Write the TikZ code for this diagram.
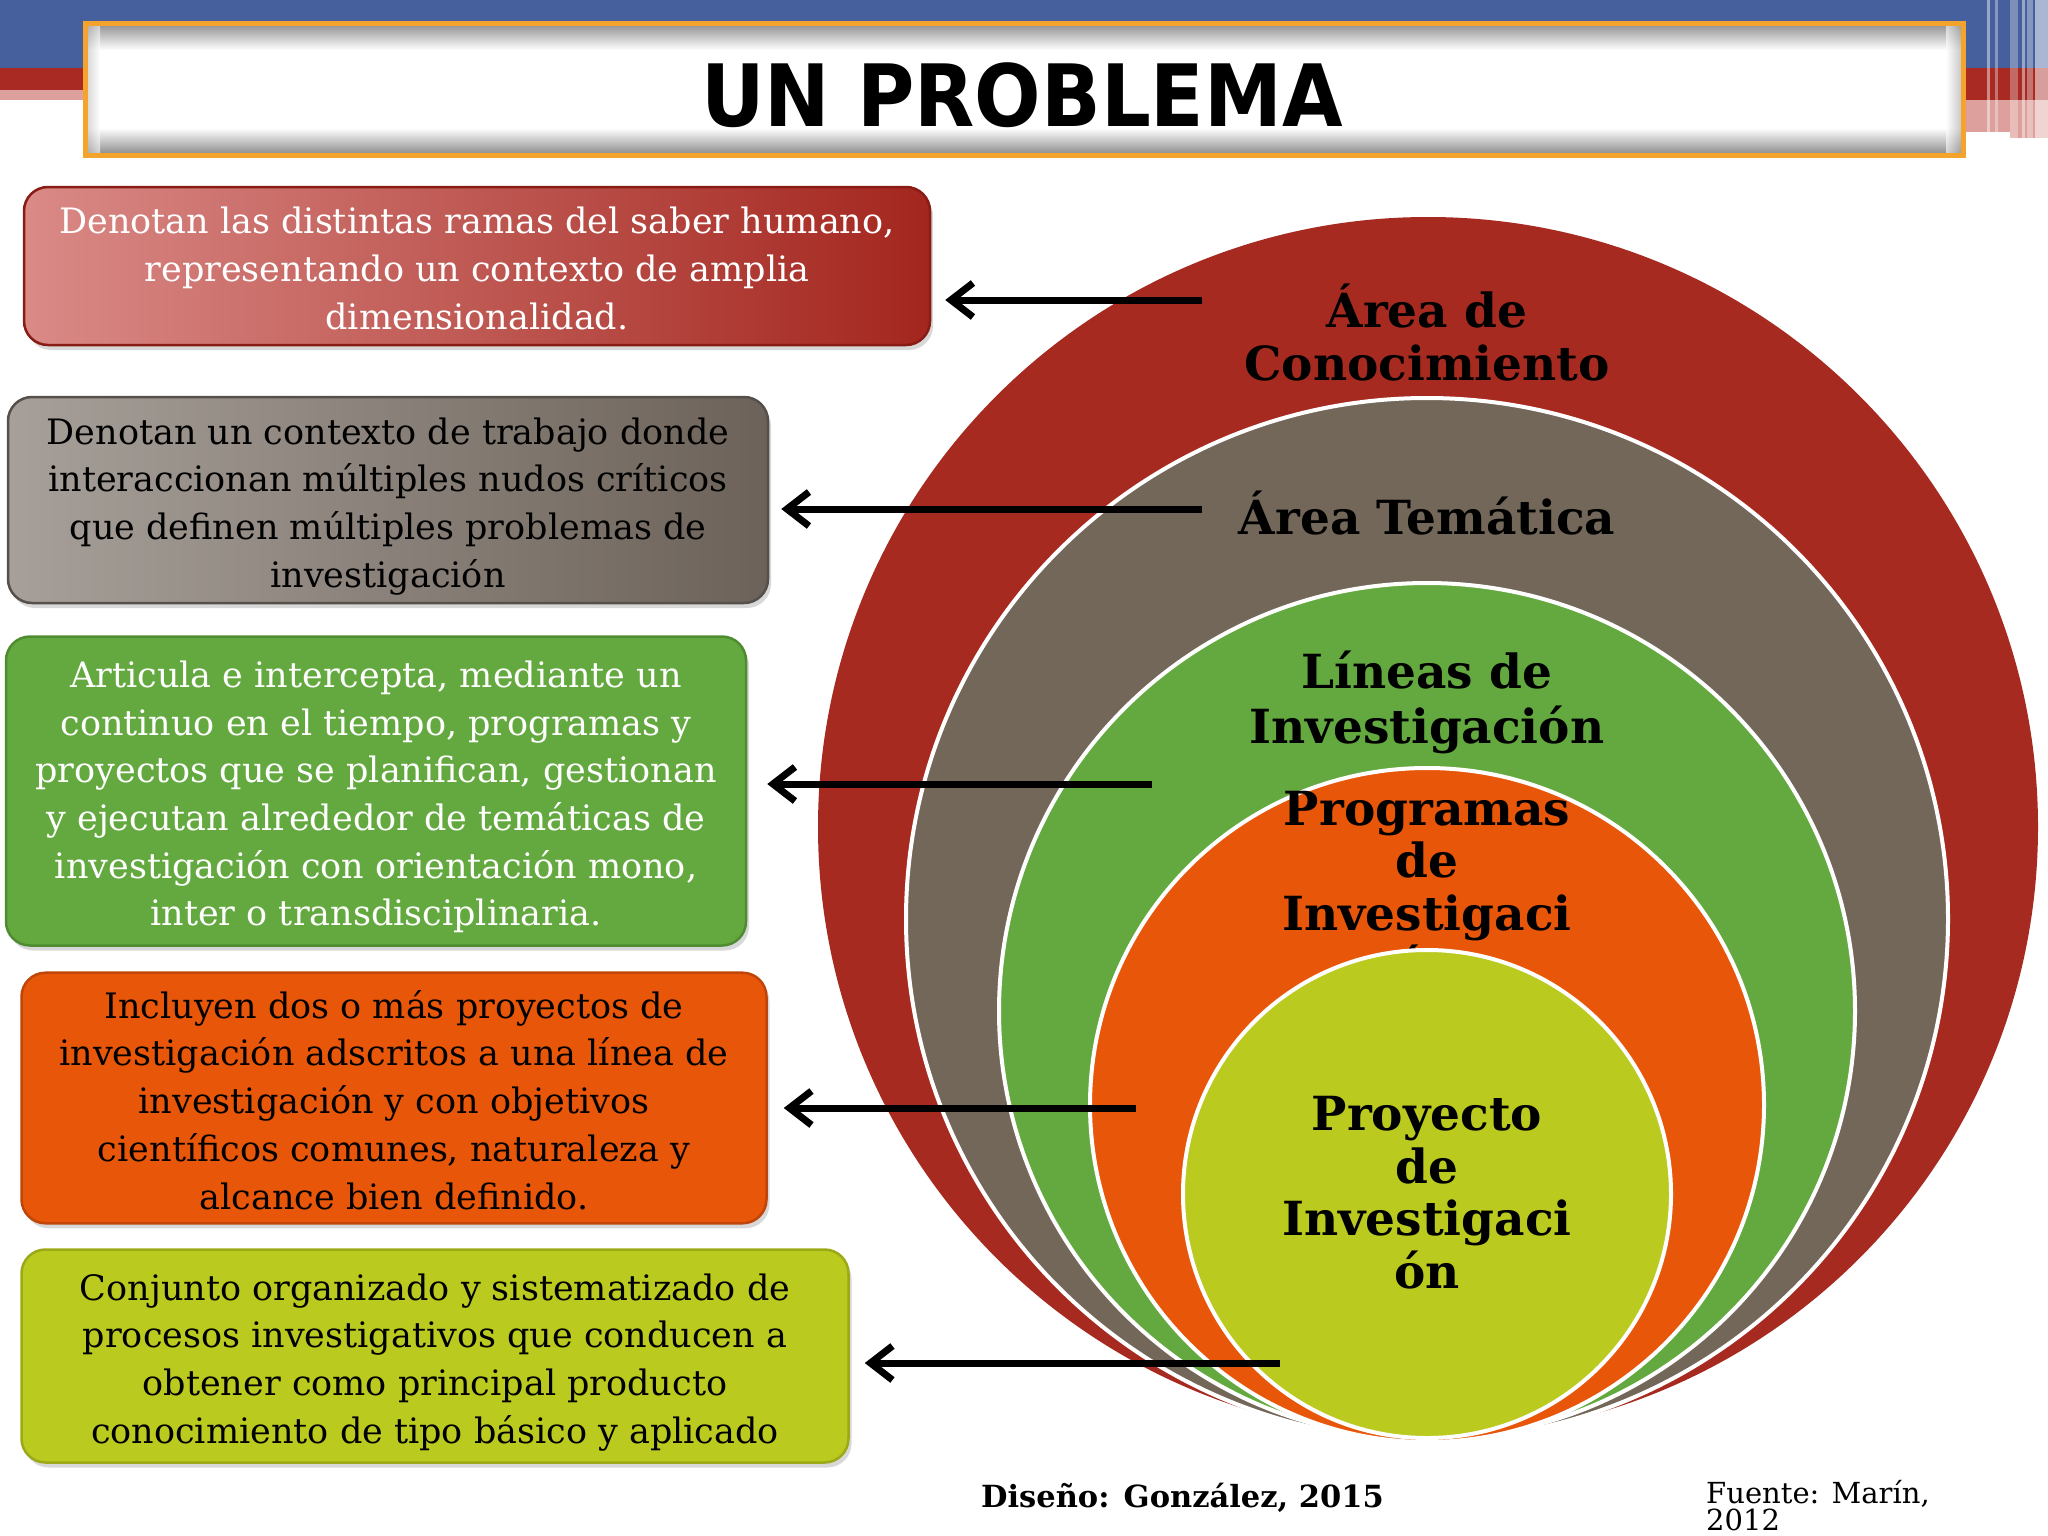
\documentclass[tikz,border=0pt]{standalone}
\usepackage{fontspec}
\setmainfont{DejaVu Serif}
\newfontfamily\titlefont{DejaVu Sans}
\usetikzlibrary{arrows.meta,shadows}
\definecolor{topblue}{HTML}{45609C}
\definecolor{topred}{HTML}{A82A22}
\definecolor{toppink}{HTML}{DDA09C}
\definecolor{ttlorange}{HTML}{F4A42C}
\definecolor{cred}{HTML}{A62A20}
\definecolor{cgray}{HTML}{736759}
\definecolor{cgreen}{HTML}{64A93F}
\definecolor{corange}{HTML}{E8560A}
\definecolor{cyellow}{HTML}{BBCA1F}
\definecolor{b1light}{HTML}{DA8A87}
\definecolor{b1dark}{HTML}{A3261E}
\definecolor{b1line}{HTML}{8A1C16}
\definecolor{b2light}{HTML}{A7A09A}
\definecolor{b2dark}{HTML}{6C6259}
\definecolor{b2line}{HTML}{57504A}
\definecolor{b3line}{HTML}{4F8C31}
\definecolor{b4line}{HTML}{BF4508}
\definecolor{b5line}{HTML}{9AA915}
\newcommand\descfont{\fontsize{35}{47.7}\selectfont}
\newcommand\lblfont{\bfseries\fontsize{47}{52.5}\selectfont}
\newcommand\srcfont{\fontsize{29}{31}\selectfont}
\newcommand\topstr{\rule{0pt}{45.5pt}}
\newcommand\botstr{\rule[-14.3pt]{0pt}{14.3pt}}
\begin{document}
\begin{tikzpicture}[x=1pt,y=-1pt,
  descbox/.style={rounded corners=24pt, inner sep=0pt, align=center, line width=2.5pt, font=\descfont,
     drop shadow={opacity=0.3, shadow xshift=3pt, shadow yshift=-5pt}},
  ring/.style={draw=white, line width=4pt},
  lbl/.style={align=center, inner sep=0pt, font=\lblfont, text=black},
  arr/.style={line width=7pt, draw=black, -{Straight Barb[length=22pt,width=34pt]}},
]
\useasboundingbox (0,0) rectangle (2048,1536);
\fill[white] (0,0) rectangle (2048,1536);

% top band
\fill[topblue] (0,0) rectangle (2048,68);
\fill[topred] (0,68) rectangle (85,90);
\fill[toppink] (0,90) rectangle (85,100);
\fill[topred] (1963,68) rectangle (2048,100);
\fill[toppink] (1963,100) rectangle (2048,132);
\fill[toppink] (2010,132) rectangle (2048,138);
\foreach \a/\b/\o in {1987/1990/0.45,1995/1998/0.35,2010/2018/0.3,2022/2025/0.45,2027/2033/0.35,2035/2048/0.55}
  \fill[white, opacity=\o] (\a,0) rectangle (\b,138);

% title box
\fill[white] (85,24) rectangle (1963,156);
\shade[top color=black!40, bottom color=white] (87,26) rectangle (1961,50);
\shade[top color=white, bottom color=black!45] (87,128) rectangle (1961,154);
\shade[left color=black!25, right color=white, opacity=0.6] (87,26) rectangle (100,154);
\shade[left color=white, right color=black!35, opacity=0.6] (1946,26) rectangle (1961,154);
\draw[ttlorange, line width=5pt] (85,24) rectangle (1963,156);
\node[inner sep=0pt, font=\titlefont\bfseries\fontsize{86}{86}\selectfont] (title) at (1022,95) {\scalebox{0.91}[1]{UN PROBLEMA}};

% description boxes
\node[descbox, minimum width=906pt, minimum height=158pt, left color=b1light, right color=b1dark, draw=b1line, text=white] (b1) at (477,266)
  {\topstr Denotan las distintas ramas del saber humano,\\ representando un contexto de amplia\\ \botstr dimensionalidad.};
\node[descbox, minimum width=760pt, minimum height=206pt, left color=b2light, right color=b2dark, draw=b2line, text=black] (b2) at (388,500)
  {\topstr Denotan un contexto de trabajo donde\\ interaccionan múltiples nudos críticos\\ que definen múltiples problemas de\\ \botstr investigación};
\node[descbox, minimum width=740pt, minimum height=309pt, fill=cgreen, draw=b3line, text=white] (b3) at (376,791)
  {\topstr Articula e intercepta, mediante un\\ continuo en el tiempo, programas y\\ proyectos que se planifican, gestionan\\ y ejecutan alrededor de temáticas de\\ investigación con orientación mono,\\ \botstr inter o transdisciplinaria.};
\node[descbox, minimum width=745pt, minimum height=245pt, fill=corange, draw=b4line, text=black] (b4) at (394,1098)
  {\topstr Incluyen dos o más proyectos de\\ investigación adscritos a una línea de\\ investigación y con objetivos\\ científicos comunes, naturaleza y\\ \botstr alcance bien definido.};
\node[descbox, minimum width=827pt, minimum height=213pt, fill=cyellow, draw=b5line, text=black] (b5) at (435,1356)
  {\topstr Conjunto organizado y sistematizado de\\ procesos investigativos que conducen a\\ obtener como principal producto\\ \botstr conocimiento de tipo básico y aplicado};

% circles
\fill[cred] (1428,827) circle[radius=610pt];
\node[lbl] (l1) at (1427,340) {\strut Área de\\\strut Conocimiento};
\filldraw[ring, fill=cgray] (1427,919) circle[radius=521pt];
\node[lbl] (l2) at (1427,520.5) {\strut Área Temática};
\filldraw[ring, fill=cgreen] (1427,1011) circle[radius=428pt];
\node[lbl] (l3) at (1427,705) {\strut Líneas de\\\strut Investigación};
\filldraw[ring, fill=corange] (1427,1105) circle[radius=337pt];
\node[lbl] (l4) at (1427,893.5) {\strut Programas\\de\\Investigaci\\\strut ón};
\filldraw[ring, fill=cyellow] (1427,1194) circle[radius=244pt];
\node[lbl] (l5) at (1427,1199) {\strut Proyecto\\de\\Investigaci\\\strut ón};

% arrows
\coordinate (s1) at (1202,300);
\coordinate (s2) at (1202,509);
\coordinate (s3) at (1152,784);
\coordinate (s4) at (1136,1108);
\coordinate (s5) at (1280,1363);
\draw[arr, shorten >=14pt] (s1) -- (b1.east |- s1);
\draw[arr, shorten >=12pt] (s2) -- (b2.east |- s2);
\draw[arr, shorten >=20pt] (s3) -- (b3.east |- s3);
\draw[arr, shorten >=16pt] (s4) -- (b4.east |- s4);
\draw[arr, shorten >=15pt] (s5) -- (b5.east |- s5);

% credits
\node[anchor=base west, inner sep=0pt, font=\bfseries\fontsize{30.5}{31}\selectfont] (dis) at (981,1507) {Diseño: González, 2015};
\node[anchor=base west, inner sep=0pt, font=\srcfont] (fue1) at (1706,1503) {Fuente: Marín,};
\node[anchor=base west, inner sep=0pt, font=\srcfont] (fue2) at (1706,1530) {2012};
\end{tikzpicture}
\end{document}
